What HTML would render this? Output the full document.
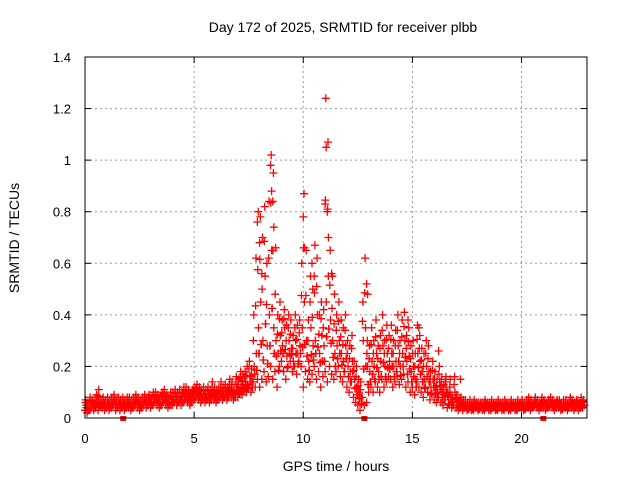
<!DOCTYPE html>
<html><head><meta charset="utf-8"><style>
body{margin:0;background:#fff;}
svg{display:block;font-family:"Liberation Sans",sans-serif;}
</style></head><body>
<svg id="chart" width="640" height="480" viewBox="0 0 640 480">
<rect width="640" height="480" fill="#fff"/>
<text x="343" y="32" font-size="14" text-anchor="middle">Day 172 of 2025, SRMTID for receiver plbb</text>
<g id="grid"></g>
<g id="marks"></g>
<rect x="85" y="57" width="502" height="361" fill="none" stroke="#000" stroke-width="1"/>
<g id="axes"></g>
<text x="336" y="471" font-size="14" text-anchor="middle">GPS time / hours</text>
<text transform="translate(19,238) rotate(-90)" font-size="14" text-anchor="middle">SRMTID / TECUs</text>
</svg>
<script>
const xTicks=[0,5,10,15,20];
const yTicks=[0,0.2,0.4,0.6,0.8,1,1.2,1.4];
const yTickLabels=["0","0.2","0.4","0.6","0.8","1","1.2","1.4"];
const hourStep=0.1;
const lo=[0.03,0.02,0.03,0.04,0.03,0.04,0.03,0.05,0.04,0.03,0.04,0.03,0.04,0.05,0.03,0.04,0.03,0.04,0.03,0.04,
0.04,0.03,0.04,0.05,0.04,0.03,0.04,0.05,0.04,0.05,0.04,0.05,0.06,0.05,0.04,0.05,0.06,0.05,0.04,0.05,
0.05,0.06,0.05,0.06,0.05,0.06,0.07,0.06,0.05,0.06,0.07,0.08,0.07,0.06,0.07,0.06,0.07,0.06,0.08,0.07,
0.06,0.07,0.08,0.07,0.08,0.07,0.09,0.08,0.07,0.09,0.08,0.10,0.09,0.11,0.10,0.12,0.10,0.14,0.12,0.15,
0.12,0.15,0.18,0.14,0.16,0.20,0.15,0.18,0.12,0.20,0.22,0.18,0.15,0.20,0.22,0.18,0.20,0.17,0.22,0.20,
0.12,0.18,0.15,0.14,0.17,0.20,0.15,0.18,0.12,0.16,0.18,0.14,0.20,0.17,0.15,0.18,0.20,0.16,0.14,0.18,
0.12,0.10,0.14,0.08,0.06,0.05,0.03,0.08,0.05,0.06,0.10,0.12,0.10,0.14,0.12,0.10,0.15,0.12,0.14,0.16,
0.15,0.12,0.14,0.16,0.13,0.15,0.17,0.12,0.14,0.10,0.12,0.09,0.14,0.12,0.10,0.08,0.12,0.10,0.07,0.09,
0.07,0.06,0.08,0.06,0.05,0.07,0.04,0.05,0.04,0.05,0.04,0.03,0.04,0.03,0.04,0.03,0.04,0.03,0.03,0.04,
0.03,0.04,0.03,0.03,0.04,0.03,0.03,0.04,0.03,0.03,0.04,0.03,0.03,0.04,0.03,0.03,0.04,0.03,0.03,0.04,
0.04,0.03,0.04,0.04,0.03,0.04,0.05,0.04,0.03,0.04,0.04,0.03,0.04,0.05,0.04,0.03,0.04,0.04,0.03,0.04,
0.04,0.03,0.04,0.04,0.03,0.04,0.03,0.04,0.04];
const mid=[0.05,0.04,0.05,0.06,0.05,0.07,0.06,0.05,0.06,0.05,0.06,0.05,0.06,0.07,0.05,0.06,0.05,0.06,0.05,0.06,
0.06,0.05,0.06,0.07,0.06,0.05,0.06,0.07,0.06,0.07,0.06,0.07,0.08,0.07,0.06,0.07,0.08,0.07,0.06,0.07,
0.07,0.08,0.07,0.08,0.07,0.08,0.09,0.08,0.07,0.08,0.09,0.10,0.09,0.08,0.09,0.08,0.09,0.08,0.10,0.09,
0.08,0.09,0.10,0.09,0.10,0.09,0.11,0.10,0.09,0.12,0.11,0.13,0.12,0.14,0.13,0.16,0.14,0.20,0.25,0.35,
0.45,0.30,0.55,0.28,0.40,0.65,0.35,0.30,0.25,0.32,0.28,0.35,0.24,0.30,0.27,0.22,0.30,0.25,0.28,0.35,
0.45,0.30,0.22,0.35,0.28,0.30,0.40,0.25,0.32,0.28,0.45,0.55,0.38,0.30,0.25,0.28,0.30,0.25,0.22,0.28,
0.20,0.18,0.22,0.15,0.12,0.10,0.08,0.30,0.35,0.20,0.18,0.22,0.20,0.25,0.18,0.22,0.28,0.20,0.25,0.22,
0.25,0.20,0.22,0.28,0.20,0.25,0.30,0.22,0.24,0.18,0.20,0.15,0.25,0.22,0.18,0.15,0.20,0.18,0.12,0.15,
0.12,0.10,0.14,0.10,0.09,0.12,0.07,0.09,0.06,0.10,0.06,0.05,0.06,0.05,0.05,0.04,0.05,0.04,0.05,0.05,
0.04,0.05,0.04,0.05,0.05,0.04,0.05,0.05,0.04,0.05,0.05,0.04,0.05,0.05,0.04,0.05,0.05,0.04,0.05,0.05,
0.05,0.04,0.05,0.06,0.05,0.05,0.06,0.05,0.05,0.06,0.06,0.05,0.05,0.06,0.05,0.05,0.06,0.05,0.04,0.05,
0.05,0.05,0.06,0.05,0.05,0.06,0.05,0.05,0.06];
const hi=[0.07,0.06,0.08,0.07,0.06,0.09,0.11,0.07,0.08,0.07,0.08,0.07,0.08,0.09,0.07,0.08,0.07,0.08,0.07,0.08,
0.08,0.07,0.08,0.09,0.08,0.07,0.08,0.09,0.08,0.09,0.08,0.10,0.10,0.09,0.08,0.10,0.11,0.09,0.08,0.10,
0.10,0.11,0.10,0.11,0.10,0.12,0.12,0.11,0.10,0.11,0.12,0.13,0.12,0.11,0.12,0.11,0.12,0.11,0.14,0.12,
0.11,0.12,0.14,0.12,0.13,0.12,0.15,0.14,0.12,0.16,0.15,0.18,0.17,0.18,0.20,0.22,0.19,0.40,0.62,0.80,
0.78,0.70,0.82,0.60,0.84,1.02,0.95,0.66,0.40,0.45,0.38,0.42,0.36,0.40,0.38,0.32,0.40,0.36,0.38,0.60,
0.87,0.65,0.38,0.55,0.50,0.67,0.62,0.40,0.45,0.42,1.24,1.07,0.65,0.55,0.48,0.40,0.45,0.38,0.35,0.40,
0.30,0.28,0.32,0.22,0.20,0.15,0.14,0.45,0.62,0.30,0.28,0.35,0.30,0.38,0.28,0.32,0.40,0.30,0.36,0.32,
0.36,0.30,0.34,0.40,0.30,0.38,0.41,0.32,0.35,0.28,0.30,0.25,0.36,0.32,0.27,0.25,0.30,0.28,0.18,0.22,
0.18,0.15,0.20,0.15,0.13,0.16,0.10,0.15,0.08,0.16,0.09,0.07,0.08,0.07,0.07,0.06,0.07,0.06,0.07,0.06,
0.06,0.06,0.06,0.07,0.06,0.06,0.07,0.06,0.06,0.07,0.06,0.06,0.07,0.06,0.06,0.07,0.06,0.06,0.07,0.06,
0.07,0.06,0.07,0.08,0.07,0.06,0.08,0.07,0.06,0.08,0.07,0.06,0.07,0.08,0.07,0.06,0.07,0.07,0.06,0.07,
0.07,0.06,0.08,0.07,0.06,0.07,0.06,0.08,0.07];
const spikeHours=[7.9,8.0,8.1,8.5,8.55,8.6,8.65,10.0,10.05,10.4,10.5,11.0,11.05,11.1,11.15,11.3,12.9,12.95,14.8,15.3,16.2,17.2];
const spikeValues=[0.76,0.68,0.56,0.98,0.88,0.84,0.74,0.78,0.66,0.60,0.55,0.83,1.05,0.80,0.70,0.56,0.52,0.48,0.38,0.35,0.26,0.15];
const zeroHours=[1.75,12.8,21.0];

const X0=85,X1=587,Y0=418,Y1=57,XMAX=23,YMAX=1.4;
const xs=v=>X0+(X1-X0)*v/XMAX;
const ys=v=>Y0-(Y0-Y1)*v/YMAX;
const NS="http://www.w3.org/2000/svg";
const grid=document.getElementById('grid'),axes=document.getElementById('axes'),marks=document.getElementById('marks');
function mk(t,a,p){const e=document.createElementNS(NS,t);for(const k in a)e.setAttribute(k,a[k]);p.appendChild(e);return e;}
xTicks.forEach(t=>{
  const x=xs(t);
  if(t>0){const g=mk('line',{x1:x,x2:x,y1:Y0,y2:Y1,stroke:'#999','stroke-dasharray':'2,3'},grid);
  
  }
  mk('line',{x1:x,x2:x,y1:Y0,y2:Y0-6,stroke:'#000'},axes);
  mk('line',{x1:x,x2:x,y1:Y1,y2:Y1+6,stroke:'#000'},axes);
  const l=mk('text',{x:x,y:443,'font-size':13,'text-anchor':'middle'},axes);l.textContent=t;
  
  
});
yTicks.forEach((t,i)=>{
  const y=ys(t);
  if(t>0&&t<YMAX){const g=mk('line',{x1:X0,x2:X1,y1:y,y2:y,stroke:'#999','stroke-dasharray':'2,3'},grid);
  
  }
  mk('line',{x1:X0,x2:X0+6,y1:y,y2:y,stroke:'#000'},axes);
  mk('line',{x1:X1,x2:X1-6,y1:y,y2:y,stroke:'#000'},axes);
  const l=mk('text',{x:71,y:y+5,'font-size':13,'text-anchor':'end'},axes);l.textContent=yTickLabels[i];
  
  
});
let d='';
function cross(h,v){const x=xs(h),y=ys(v);d+=`M${(x-4).toFixed(1)} ${y.toFixed(1)}h8M${x.toFixed(1)} ${(y-4).toFixed(1)}v8`;}
lo.forEach((v,i)=>cross(i*hourStep,v));
mid.forEach((v,i)=>cross(i*hourStep+hourStep/2,v));
hi.forEach((v,i)=>cross(i*hourStep+hourStep/3,v));
mid.forEach((v,i)=>cross(i*hourStep+hourStep*0.8,(v+lo[i])/2));
mid.forEach((v,i)=>cross(i*hourStep+hourStep*0.15,(v+hi[i])/2));
lo.forEach((v,i)=>cross(i*hourStep+hourStep*0.65,(v+mid[i])/2));
spikeHours.forEach((h,i)=>cross(h,spikeValues[i]));
const p=mk('path',{d:d,stroke:'#f00','stroke-width':1.3,fill:'none'},marks);


zeroHours.forEach(h=>{
  const r=mk('rect',{x:xs(h)-3,y:Y0-2,width:6,height:5,fill:'#f00'},marks);
  
  
});
</script>
</body></html>
